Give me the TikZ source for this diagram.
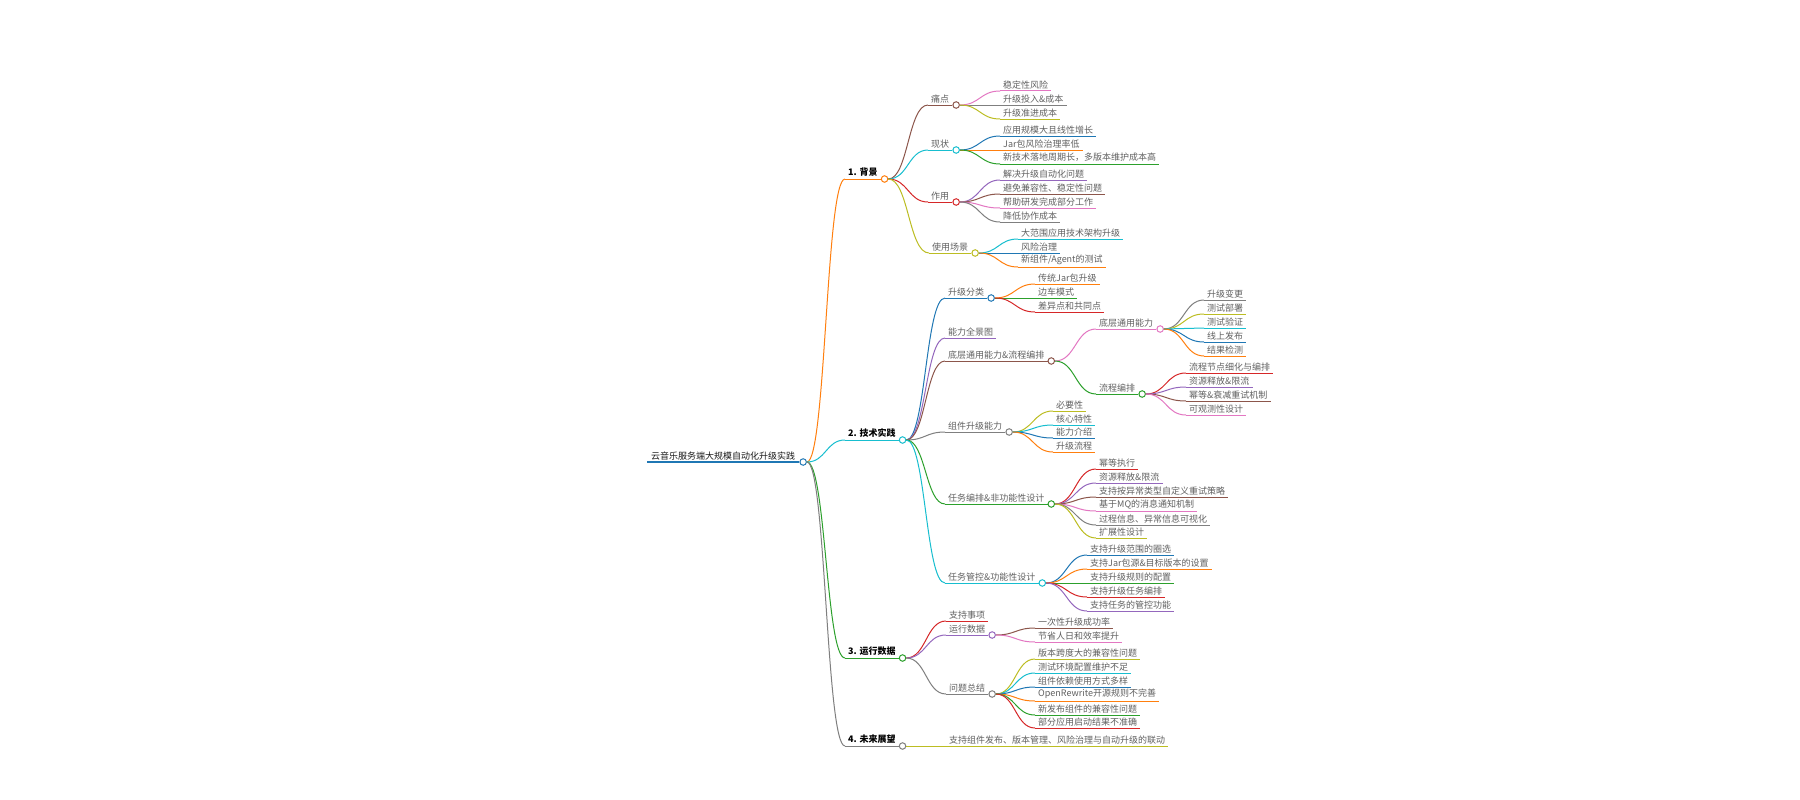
\documentclass[tikz,border=0pt]{standalone}
\usepackage{fontspec}
\setmainfont{Noto Sans CJK SC}
\usetikzlibrary{positioning, calc}
\definecolor{blu}{HTML}{1F77B4}
\definecolor{org}{HTML}{FF7F0E}
\definecolor{grn}{HTML}{2CA02C}
\definecolor{rd}{HTML}{D62728}
\definecolor{ppl}{HTML}{9467BD}
\definecolor{brn}{HTML}{8C564B}
\definecolor{pnk}{HTML}{E377C2}
\definecolor{gry}{HTML}{7F7F7F}
\definecolor{olv}{HTML}{BCBD22}
\definecolor{cyn}{HTML}{17BECF}
\begin{document}
\begin{tikzpicture}[x=1pt, y=-1pt,
	txt/.style={anchor=south west, inner xsep=3pt, inner ysep=2pt, font=\fontsize{9}{10}\selectfont, text=black!62},
	lf/.style={txt, append after command={(\tikzlastnode.south west) edge[line width=1pt, #1] (\tikzlastnode.south east)}},
	hd/.style={lf=#1, text=black, font=\fontsize{9}{10}\selectfont\bfseries},
	knot/.style={circle, draw=#1, fill=white, line width=1pt, minimum size=6.5pt, inner sep=0pt},
	twig/.style={line width=1pt, to path={let \p1=(\tikztostart), \p2=(\tikztotarget) in .. controls ({0.5*\x1+0.5*\x2},\y1) and ({0.5*\x1+0.5*\x2},\y2) .. (\tikztotarget)}}]
			\fill[white] (0,0) rectangle (1800,800);
			\useasboundingbox (0,0) rectangle (1800,800);
			
			\node[lf={blu, line width=1.5pt}, text=black!90, inner xsep=4pt] (root) at (647,462) {云音乐服务端大规模自动化升级实践};
			\node[knot=blu] (rooto) [right=0pt of root.south east] {};
			
			\node[hd=org] (b) at (845,179) {1. 背景};
			\node[hd=cyn] (t) at (845,440) {2. 技术实践};
			\node[hd=grn] (r) at (845,658) {3. 运行数据};
			\node[hd=gry] (f) at (845,746) {4. 未来展望};
			\node[knot=org] (bo) [right=0pt of b.south east] {};
			\node[knot=cyn] (to) [right=0pt of t.south east] {};
			\node[knot=grn] (ro) [right=0pt of r.south east] {};
			\node[knot=gry] (fo) [right=0pt of f.south east] {};
			
			\node[lf=brn] (b1) at (928,105) {痛点};
			\node[lf=cyn] (b2) at (928,150) {现状};
			\node[lf=rd] (b3) at (928,202) {作用};
			\node[lf=olv] (b4) at (929,253) {使用场景};
			\node[knot=brn] (b1o) [right=0pt of b1.south east] {};
			\node[knot=cyn] (b2o) [right=0pt of b2.south east] {};
			\node[knot=rd] (b3o) [right=0pt of b3.south east] {};
			\node[knot=olv] (b4o) [right=0pt of b4.south east] {};
			
			\node[lf=pnk] (b11) at (1000,91) {稳定性风险};
			\node[lf=gry] (b12) at (1000,105) {升级投入\&成本};
			\node[lf=olv] (b13) at (1000,119) {升级准进成本};
			
			\node[lf=blu] (b21) at (1000,136) {应用规模大且线性增长};
			\node[lf=org] (b22) at (1000,150) {Jar包风险治理率低};
			\node[lf=grn] (b23) at (1000,164) {新技术落地周期长，多版本维护成本高};
			
			\node[lf=ppl] (b31) at (1000,180) {解决升级自动化问题};
			\node[lf=brn] (b32) at (1000,194) {避免兼容性、稳定性问题};
			\node[lf=pnk] (b33) at (1000,208) {帮助研发完成部分工作};
			\node[lf=gry] (b34) at (1000,222) {降低协作成本};
			
			\node[lf=cyn] (b41) at (1018,239) {大范围应用技术架构升级};
			\node[lf=blu] (b42) at (1018,253) {风险治理};
			\node[lf=org] (b43) at (1018,267) {新组件/Agent的测试};
			
			\node[lf=blu] (t1) at (945,298) {升级分类};
			\node[lf=ppl] (t2) at (945,338) {能力全景图};
			\node[lf=brn] (t3) at (945,361) {底层通用能力\&流程编排};
			\node[lf=gry] (t4) at (945,432) {组件升级能力};
			\node[lf=grn] (t5) at (945,504) {任务编排\&非功能性设计};
			\node[lf=cyn] (t6) at (945,583) {任务管控\&功能性设计};
			\node[knot=blu] (t1o) [right=0pt of t1.south east] {};
			\node[knot=brn] (t3o) [right=0pt of t3.south east] {};
			\node[knot=gry] (t4o) [right=0pt of t4.south east] {};
			\node[knot=grn] (t5o) [right=0pt of t5.south east] {};
			\node[knot=cyn] (t6o) [right=0pt of t6.south east] {};
			
			\node[lf=org] (t11) at (1035,284) {传统Jar包升级};
			\node[lf=grn] (t12) at (1035,298) {边车模式};
			\node[lf=rd] (t13) at (1035,312) {差异点和共同点};
			
			\node[lf=pnk] (t31) at (1096,329) {底层通用能力};
			\node[lf=grn] (t32) at (1096,394) {流程编排};
			\node[knot=pnk] (t31o) [right=0pt of t31.south east] {};
			\node[knot=grn] (t32o) [right=0pt of t32.south east] {};
			
			\node[lf=gry] (t311) at (1204,300) {升级变更};
			\node[lf=olv] (t312) at (1204,314) {测试部署};
			\node[lf=cyn] (t313) at (1204,328) {测试验证};
			\node[lf=blu] (t314) at (1204,342) {线上发布};
			\node[lf=org] (t315) at (1204,356) {结果检测};
			
			\node[lf=rd] (t321) at (1186,373) {流程节点细化与编排};
			\node[lf=ppl] (t322) at (1186,387) {资源释放\&限流};
			\node[lf=brn] (t323) at (1186,401) {幂等\&衰减重试机制};
			\node[lf=pnk] (t324) at (1186,415) {可观测性设计};
			
			\node[lf=olv] (t41) at (1053,411) {必要性};
			\node[lf=cyn] (t42) at (1053,425) {核心特性};
			\node[lf=blu] (t43) at (1053,438) {能力介绍};
			\node[lf=org] (t44) at (1053,452) {升级流程};
			
			\node[lf=rd] (t51) at (1096,469) {幂等执行};
			\node[lf=ppl] (t52) at (1096,483) {资源释放\&限流};
			\node[lf=brn] (t53) at (1096,497) {支持按异常类型自定义重试策略};
			\node[lf=pnk] (t54) at (1096,511) {基于MQ的消息通知机制};
			\node[lf=gry] (t55) at (1096,525) {过程信息、异常信息可视化};
			\node[lf=olv] (t56) at (1096,538) {扩展性设计};
			
			\node[lf=blu] (t61) at (1087,555) {支持升级范围的圈选};
			\node[lf=org] (t62) at (1087,569) {支持Jar包源\&目标版本的设置};
			\node[lf=grn] (t63) at (1087,583) {支持升级规则的配置};
			\node[lf=rd] (t64) at (1087,597) {支持升级任务编排};
			\node[lf=ppl] (t65) at (1087,611) {支持任务的管控功能};
			
			\node[lf=rd] (r1) at (946,621) {支持事项};
			\node[lf=ppl] (r2) at (946,635) {运行数据};
			\node[lf=gry] (r3) at (946,694) {问题总结};
			\node[knot=ppl] (r2o) [right=0pt of r2.south east] {};
			\node[knot=gry] (r3o) [right=0pt of r3.south east] {};
			
			\node[lf=brn] (r21) at (1035,628) {一次性升级成功率};
			\node[lf=pnk] (r22) at (1035,642) {节省人日和效率提升};
			
			\node[lf=olv] (r31) at (1035,659) {版本跨度大的兼容性问题};
			\node[lf=cyn] (r32) at (1035,673) {测试环境配置维护不足};
			\node[lf=blu] (r33) at (1035,687) {组件依赖使用方式多样};
			\node[lf=org] (r34) at (1035,701) {OpenRewrite开源规则不完善};
			\node[lf=grn] (r35) at (1035,715) {新发布组件的兼容性问题};
			\node[lf=rd] (r36) at (1035,728) {部分应用启动结果不准确};
			
			\node[lf=olv] (f1) at (946,746) {支持组件发布、版本管理、风险治理与自动升级的联动};
			
			\draw[twig, org] (rooto.east) to (b.south west);
			\draw[twig, cyn] (rooto.east) to (t.south west);
			\draw[twig, grn] (rooto.east) to (r.south west);
			\draw[twig, gry] (rooto.east) to (f.south west);
			
			\draw[twig, brn] (bo.east) to (b1.south west);
			\draw[twig, cyn] (bo.east) to (b2.south west);
			\draw[twig, rd] (bo.east) to (b3.south west);
			\draw[twig, olv] (bo.east) to (b4.south west);
			
			\draw[twig, pnk] (b1o.east) to (b11.south west);
			\draw[twig, gry] (b1o.east) to (b12.south west);
			\draw[twig, olv] (b1o.east) to (b13.south west);
			\draw[twig, blu] (b2o.east) to (b21.south west);
			\draw[twig, org] (b2o.east) to (b22.south west);
			\draw[twig, grn] (b2o.east) to (b23.south west);
			\draw[twig, ppl] (b3o.east) to (b31.south west);
			\draw[twig, brn] (b3o.east) to (b32.south west);
			\draw[twig, pnk] (b3o.east) to (b33.south west);
			\draw[twig, gry] (b3o.east) to (b34.south west);
			\draw[twig, cyn] (b4o.east) to (b41.south west);
			\draw[twig, blu] (b4o.east) to (b42.south west);
			\draw[twig, org] (b4o.east) to (b43.south west);
			
			\draw[twig, blu] (to.east) to (t1.south west);
			\draw[twig, ppl] (to.east) to (t2.south west);
			\draw[twig, brn] (to.east) to (t3.south west);
			\draw[twig, gry] (to.east) to (t4.south west);
			\draw[twig, grn] (to.east) to (t5.south west);
			\draw[twig, cyn] (to.east) to (t6.south west);
			
			\draw[twig, org] (t1o.east) to (t11.south west);
			\draw[twig, grn] (t1o.east) to (t12.south west);
			\draw[twig, rd] (t1o.east) to (t13.south west);
			\draw[twig, pnk] (t3o.east) to (t31.south west);
			\draw[twig, grn] (t3o.east) to (t32.south west);
			\draw[twig, gry] (t31o.east) to (t311.south west);
			\draw[twig, olv] (t31o.east) to (t312.south west);
			\draw[twig, cyn] (t31o.east) to (t313.south west);
			\draw[twig, blu] (t31o.east) to (t314.south west);
			\draw[twig, org] (t31o.east) to (t315.south west);
			\draw[twig, rd] (t32o.east) to (t321.south west);
			\draw[twig, ppl] (t32o.east) to (t322.south west);
			\draw[twig, brn] (t32o.east) to (t323.south west);
			\draw[twig, pnk] (t32o.east) to (t324.south west);
			\draw[twig, olv] (t4o.east) to (t41.south west);
			\draw[twig, cyn] (t4o.east) to (t42.south west);
			\draw[twig, blu] (t4o.east) to (t43.south west);
			\draw[twig, org] (t4o.east) to (t44.south west);
			\draw[twig, rd] (t5o.east) to (t51.south west);
			\draw[twig, ppl] (t5o.east) to (t52.south west);
			\draw[twig, brn] (t5o.east) to (t53.south west);
			\draw[twig, pnk] (t5o.east) to (t54.south west);
			\draw[twig, gry] (t5o.east) to (t55.south west);
			\draw[twig, olv] (t5o.east) to (t56.south west);
			\draw[twig, blu] (t6o.east) to (t61.south west);
			\draw[twig, org] (t6o.east) to (t62.south west);
			\draw[twig, grn] (t6o.east) to (t63.south west);
			\draw[twig, rd] (t6o.east) to (t64.south west);
			\draw[twig, ppl] (t6o.east) to (t65.south west);
			
			\draw[twig, rd] (ro.east) to (r1.south west);
			\draw[twig, ppl] (ro.east) to (r2.south west);
			\draw[twig, gry] (ro.east) to (r3.south west);
			\draw[twig, brn] (r2o.east) to (r21.south west);
			\draw[twig, pnk] (r2o.east) to (r22.south west);
			\draw[twig, olv] (r3o.east) to (r31.south west);
			\draw[twig, cyn] (r3o.east) to (r32.south west);
			\draw[twig, blu] (r3o.east) to (r33.south west);
			\draw[twig, org] (r3o.east) to (r34.south west);
			\draw[twig, grn] (r3o.east) to (r35.south west);
			\draw[twig, rd] (r3o.east) to (r36.south west);
			
			\draw[twig, olv] (fo.east) to (f1.south west);
\end{tikzpicture}
\end{document}
